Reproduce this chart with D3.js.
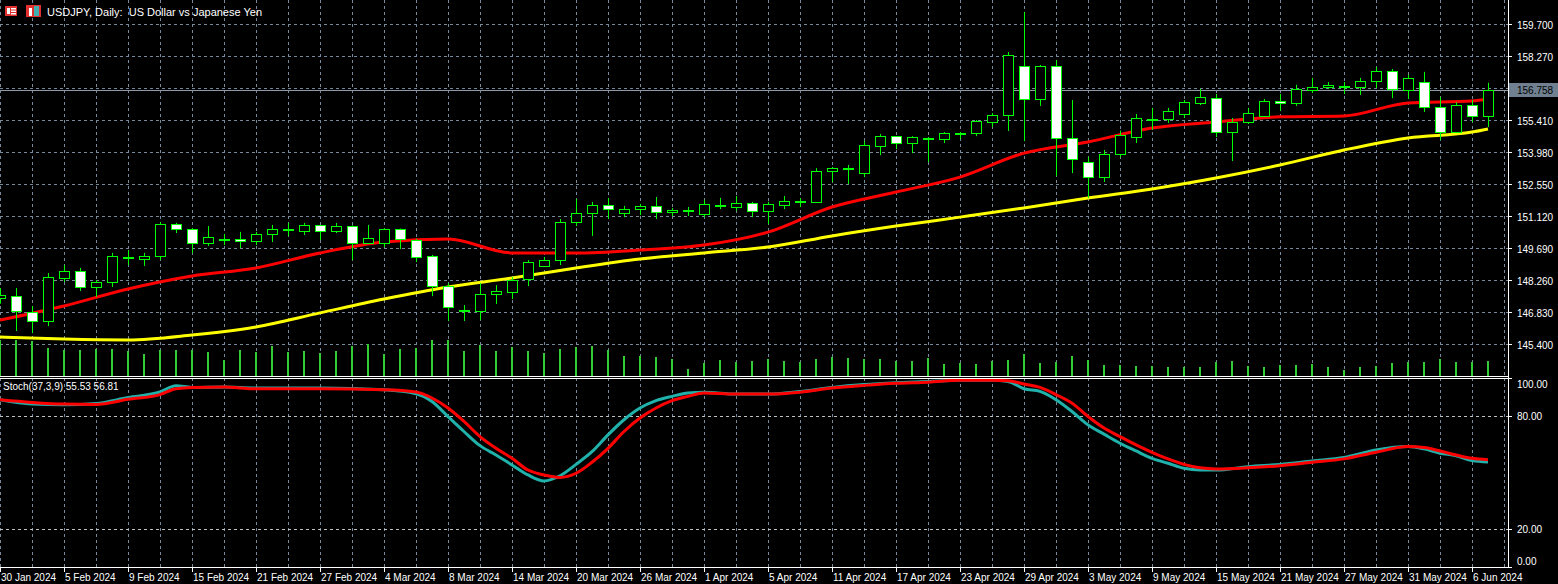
<!DOCTYPE html>
<html>
<head>
<meta charset="utf-8">
<script src="https://cdn.jsdelivr.net/npm/d3@7"></script>
<style>
  body { margin: 0; background: #000; }
  svg { display: block; }
</style>
</head>
<body>
<div class="chart"></div>
<script>
// daily USDJPY bars, 30 Jan 2024 .. 7 Jun 2024 (index = bar number)
var opens = [147.45,147.54,146.83,146.43,148.35,148.66,147.95,148.17,149.26,149.20,149.33,150.76,150.54,149.91,150.05,150.10,150.00,150.32,150.50,150.45,150.72,150.45,150.67,149.91,149.91,150.54,150.05,149.33,147.99,146.90,146.87,147.63,147.72,148.30,148.89,149.15,150.85,151.25,151.61,151.25,151.43,151.57,151.30,151.34,151.21,151.59,151.52,151.70,151.34,151.61,151.75,151.75,153.13,153.22,153.04,154.25,154.69,154.38,154.58,154.56,154.80,154.83,155.32,155.63,157.82,156.35,157.82,154.60,153.53,152.86,153.89,154.65,155.41,155.46,155.68,156.17,156.39,154.87,155.32,155.59,156.26,156.17,156.75,156.89,156.87,156.89,157.16,157.60,156.75,157.11,155.99,154.87,156.08,155.59];
var highs = [147.90,147.90,147.10,148.57,148.93,148.80,148.26,149.47,149.60,149.47,150.85,150.81,150.58,150.67,150.32,150.41,150.41,150.72,150.81,150.81,150.72,150.81,150.70,150.72,150.58,150.56,150.10,149.38,148.12,147.14,148.12,148.03,148.39,149.15,149.29,150.99,151.88,151.75,151.92,151.57,151.66,151.97,151.48,151.52,151.84,151.93,152.01,151.75,151.75,152.01,151.92,153.26,153.31,153.40,154.47,154.78,154.69,154.69,154.65,154.87,154.87,155.41,155.72,158.45,160.24,157.87,158.09,156.30,153.76,154.07,154.94,155.68,155.95,155.95,156.30,156.80,156.57,155.50,155.95,156.35,156.57,156.98,157.29,157.11,157.11,157.29,157.78,157.69,157.43,157.56,156.44,156.21,156.30,157.07];
var lows = [147.20,145.98,145.89,146.20,148.17,147.77,147.50,147.95,148.93,148.89,149.15,150.36,149.47,149.78,149.82,149.69,149.82,149.96,150.23,150.27,150.05,150.36,149.15,149.91,149.73,149.64,149.06,147.54,146.43,146.43,146.47,147.19,147.41,147.99,148.89,148.93,150.67,150.23,150.99,151.07,151.16,150.99,151.12,151.12,151.07,151.43,151.36,151.07,150.76,151.43,151.52,151.70,152.64,152.55,152.86,153.84,154.11,153.93,153.53,154.38,154.56,154.69,155.10,154.92,154.47,156.04,152.91,153.04,151.92,152.64,153.76,154.38,154.96,155.28,155.50,156.08,154.65,153.58,155.23,155.55,155.81,156.04,156.62,156.80,156.57,156.53,156.84,156.39,156.35,155.77,154.51,154.83,155.32,155.10];
var closes = [147.60,146.87,146.43,148.39,148.66,147.95,148.17,149.33,149.31,149.33,150.76,150.54,149.91,150.18,150.10,150.00,150.32,150.54,150.56,150.72,150.45,150.67,149.91,150.14,150.54,150.10,149.29,147.99,147.05,146.92,147.63,147.77,148.26,149.06,149.15,150.85,151.25,151.61,151.43,151.43,151.57,151.30,151.39,151.37,151.66,151.63,151.70,151.34,151.66,151.79,151.79,153.13,153.26,153.27,154.29,154.69,154.38,154.65,154.62,154.83,154.83,155.37,155.63,158.31,156.35,157.82,154.60,153.67,152.86,153.89,154.74,155.50,155.46,155.81,156.21,156.44,154.87,155.32,155.72,156.26,156.17,156.80,156.89,156.98,156.91,157.16,157.60,156.80,157.29,155.99,154.87,156.08,155.59,156.758];
var volumes = [36,36,35,28,26,26,27,27,25,22,26,26,26,24,16,26,24,30,24,25,23,25,30,32,22,27,28,36,36,25,31,25,29,25,23,27,29,30,26,20,20,19,17,7,13,16,14,15,17,15,14,17,19,18,17,17,15,15,18,12,13,12,15,16,22,13,14,20,16,11,11,10,10,9,9,9,14,15,10,9,11,11,12,9,6,9,10,13,14,14,17,14,14,15];

// moving averages, one point every 4 bars
var maIdx = [0,4,8,12,16,20,24,28,32,36,40,44,48,52,56,60,64,68,72,76,80,84,88,92,93];
var maFast = [146.47,147.10,147.86,148.44,148.80,149.47,149.96,150.09,149.47,149.47,149.60,149.82,150.40,151.52,152.19,152.86,153.93,154.43,155.05,155.32,155.55,155.59,156.17,156.26,156.35];
var maSlow = [145.71,145.62,145.58,145.80,146.16,146.79,147.41,147.95,148.35,148.80,149.20,149.47,149.73,150.23,150.67,151.07,151.48,151.92,152.33,152.82,153.40,154.07,154.61,154.87,155.01];

// Stoch(37,3,9)
var stIdx = [0,2,4,6,8,10,11,12,14,16,20,24,26,27,28,29,30,31,32,33,34,35,36,37,38,39,40,41,42,43,44,46,48,50,52,54,56,58,60,62,63,64,65,66,67,68,69,70,71,72,73,74,75,76,78,80,82,84,86,88,89,90,91,92,93];
var stMain = [88.5,86.2,85.8,86.5,89.7,92.6,95.9,95.0,95.2,94.7,94.7,93.8,91.7,87.6,79.6,71.7,64.2,59.3,54.0,48.7,45.5,48.3,54.3,61.0,69.9,77.9,84.1,88.0,90.3,92.1,92.4,91.5,91.5,92.9,95.0,96.5,97.5,98.2,98.8,98.8,98.2,94.3,92.9,88.5,82.3,75.2,70.3,65.5,61.4,57.5,54.9,52.2,51.3,51.3,53.1,54.3,56.1,57.9,61.9,63.7,62.5,60.2,58.9,56.3,55.53];
var stSignal = [88.5,87.1,86.2,86.0,88.7,91.2,94.3,95.0,95.2,94.3,94.3,93.8,92.6,89.4,84.1,77.0,69.0,62.8,57.5,51.3,48.7,47.4,49.6,55.4,62.8,71.7,78.8,84.1,88.0,90.3,92.1,91.5,91.5,92.5,94.7,96.1,97.2,97.8,98.8,98.8,98.6,96.8,95.0,91.2,86.7,79.6,73.5,69.0,64.6,60.7,57.2,54.3,52.5,51.9,52.5,53.6,55.4,57.2,60.7,63.7,63.2,61.4,59.3,57.5,56.81];

var priceTicks = [145.40,146.83,148.26,149.69,151.12,152.55,153.98,155.41,156.84,158.27,159.70];
var stochTicks = [100, 80, 20, 0];
var dateLabels = ['30 Jan 2024','5 Feb 2024','9 Feb 2024','15 Feb 2024','21 Feb 2024','27 Feb 2024','4 Mar 2024','8 Mar 2024','14 Mar 2024','20 Mar 2024','26 Mar 2024','1 Apr 2024','5 Apr 2024','11 Apr 2024','17 Apr 2024','23 Apr 2024','29 Apr 2024','3 May 2024','9 May 2024','15 May 2024','21 May 2024','27 May 2024','31 May 2024','6 Jun 2024'];
var lastPrice = 156.758;

var W = 1558, H = 584, plotW = 1508;
var mainTop = 0, mainBottom = 376, stTop = 378, stBottom = 567;
var gridColor = '#778899';
var font = 'Liberation Sans, Arial, sans-serif';

var svg = d3.select('.chart').append('svg').attr('width', W).attr('height', H)
    .style('background', '#000');

var x = d3.scaleLinear().domain([0, 93]).range([0, 1488]);
var y = d3.scaleLinear().domain([145.40, 159.70]).range([344, 24]);
var yv = d3.scaleLinear().domain([0, 36]).range([376, 340]);
var ys = d3.scaleLinear().domain([0, 100]).range([stBottom, stTop]);

var defs = svg.append('defs');
defs.append('clipPath').attr('id', 'clipMain').append('rect')
    .attr('x', 0).attr('y', mainTop).attr('width', plotW).attr('height', mainBottom - mainTop);
defs.append('clipPath').attr('id', 'clipSt').append('rect')
    .attr('x', 0).attr('y', stTop).attr('width', plotW).attr('height', stBottom - stTop);

// grid
var grid = svg.append('g').attr('stroke', gridColor).attr('stroke-dasharray', '3,3').attr('stroke-width', 1);
d3.range(0, plotW, 32).forEach(function(gx) {
    grid.append('line').attr('x1', gx + 0.5).attr('x2', gx + 0.5).attr('y1', mainTop).attr('y2', mainBottom);
    grid.append('line').attr('x1', gx + 0.5).attr('x2', gx + 0.5).attr('y1', stTop).attr('y2', stBottom);
});
priceTicks.forEach(function(p) {
    var gy = Math.round(y(p)) + 0.5;
    grid.append('line').attr('x1', 0).attr('x2', plotW).attr('y1', gy).attr('y2', gy);
});
[80, 20].forEach(function(v) {
    var gy = Math.round(ys(v)) + 0.5;
    svg.append('line').attr('x1', 0).attr('x2', plotW).attr('y1', gy).attr('y2', gy)
        .attr('stroke', '#c0c0c0').attr('stroke-dasharray', '3,3');
});

// last price line
svg.append('line').attr('x1', 0).attr('x2', plotW)
    .attr('y1', Math.round(y(lastPrice)) + 0.5).attr('y2', Math.round(y(lastPrice)) + 0.5)
    .attr('stroke', '#8f9bab').attr('stroke-width', 1);

var main = svg.append('g').attr('clip-path', 'url(#clipMain)');

// volumes
main.selectAll('.vol').data(volumes).enter().append('line')
    .attr('x1', function(d, i) { return x(i); }).attr('x2', function(d, i) { return x(i); })
    .attr('y1', yv(0)).attr('y2', function(d) { return yv(d); })
    .attr('stroke', '#32cd32').attr('stroke-width', 2);

// moving averages
var maLine = function(vals) {
    return d3.line().x(function(d) { return x(d); }).y(function(d, k) { return y(vals[k]); })
        .curve(d3.curveMonotoneX)(maIdx);
};
main.append('path').attr('d', maLine(maSlow)).attr('fill', 'none').attr('stroke', '#ffff00').attr('stroke-width', 3);
main.append('path').attr('d', maLine(maFast)).attr('fill', 'none').attr('stroke', '#ff0000').attr('stroke-width', 3);

// candles
var candles = main.selectAll('.candle').data(closes).enter().append('g');
candles.append('line')
    .attr('x1', function(d, i) { return x(i) + 0.5; }).attr('x2', function(d, i) { return x(i) + 0.5; })
    .attr('y1', function(d, i) { return y(highs[i]); }).attr('y2', function(d, i) { return y(lows[i]); })
    .attr('stroke', '#00ff00').attr('stroke-width', 1);
candles.append('rect')
    .attr('x', function(d, i) { return x(i) - 4.5; })
    .attr('y', function(d, i) { return Math.round(y(Math.max(opens[i], d))) + 0.5; })
    .attr('width', 10)
    .attr('height', function(d, i) { return Math.max(1, Math.round(Math.abs(y(opens[i]) - y(d)))); })
    .attr('fill', function(d, i) { return d >= opens[i] ? '#000' : '#fff'; })
    .attr('stroke', '#00ff00').attr('stroke-width', 1);

// stochastic
var st = svg.append('g').attr('clip-path', 'url(#clipSt)');
var stLine = function(vals) {
    return d3.line().x(function(d) { return x(d); }).y(function(d, k) { return ys(vals[k]); })
        .curve(d3.curveMonotoneX)(stIdx);
};
st.append('path').attr('d', stLine(stMain)).attr('fill', 'none').attr('stroke', '#20b2aa').attr('stroke-width', 3);
st.append('path').attr('d', stLine(stSignal)).attr('fill', 'none').attr('stroke', '#ff0000').attr('stroke-width', 3);

// frame
svg.append('line').attr('x1', 0).attr('x2', plotW + 1).attr('y1', 376.5).attr('y2', 376.5).attr('stroke', '#fff');
svg.append('line').attr('x1', 0).attr('x2', plotW + 1).attr('y1', 378.5).attr('y2', 378.5).attr('stroke', '#fff');
svg.append('line').attr('x1', 0).attr('x2', plotW + 1).attr('y1', stBottom + 0.5).attr('y2', stBottom + 0.5).attr('stroke', '#fff');
svg.append('line').attr('x1', plotW + 0.5).attr('x2', plotW + 0.5).attr('y1', 0).attr('y2', stBottom + 1).attr('stroke', '#fff');

// price axis
priceTicks.forEach(function(p) {
    var gy = Math.round(y(p)) + 0.5;
    svg.append('line').attr('x1', plotW).attr('x2', plotW + 4).attr('y1', gy).attr('y2', gy).attr('stroke', '#fff');
    svg.append('text').attr('x', plotW + 9).attr('y', gy + 4).text(p.toFixed(3))
        .attr('fill', '#fff').style('font', '10px ' + font);
});
var ly = Math.round(y(lastPrice));
svg.append('rect').attr('x', plotW + 1).attr('y', ly - 7).attr('width', W - plotW - 1).attr('height', 14).attr('fill', '#708090');
svg.append('text').attr('x', plotW + 9).attr('y', ly + 4).text(lastPrice.toFixed(3))
    .attr('fill', '#000').style('font', '10px ' + font);

// stoch axis
stochTicks.forEach(function(v) {
    var gy = Math.min(Math.max(ys(v), stTop + 6), stBottom - 6);
    svg.append('line').attr('x1', plotW).attr('x2', plotW + 4)
        .attr('y1', Math.round(ys(v)) + 0.5).attr('y2', Math.round(ys(v)) + 0.5).attr('stroke', '#fff');
    svg.append('text').attr('x', plotW + 9).attr('y', gy + 4).text(v.toFixed(2))
        .attr('fill', '#fff').style('font', '10px ' + font);
});

// date axis
dateLabels.forEach(function(t, k) {
    var tx = x(k * 4);
    svg.append('line').attr('x1', tx + 0.5).attr('x2', tx + 0.5).attr('y1', stBottom).attr('y2', stBottom + 5).attr('stroke', '#fff');
    svg.append('text').attr('x', tx + 1).attr('y', 581).text(t)
        .attr('fill', '#fff').style('font', '10px ' + font);
});

// titles
var icon = svg.append('g');
icon.append('rect').attr('x', 5).attr('y', 6).attr('width', 12).attr('height', 10).attr('fill', '#e03030');
icon.append('rect').attr('x', 7).attr('y', 8).attr('width', 3).attr('height', 6).attr('fill', '#fff');
icon.append('rect').attr('x', 11).attr('y', 8).attr('width', 5).attr('height', 1.5).attr('fill', '#fff');
icon.append('rect').attr('x', 11).attr('y', 10.5).attr('width', 5).attr('height', 1.5).attr('fill', '#fff');
icon.append('rect').attr('x', 11).attr('y', 13).attr('width', 5).attr('height', 1.5).attr('fill', '#fff');
icon.append('rect').attr('x', 26).attr('y', 5).attr('width', 15).attr('height', 12).attr('fill', '#e03030');
icon.append('rect').attr('x', 29).attr('y', 8).attr('width', 3).attr('height', 8).attr('fill', '#fff');
icon.append('rect').attr('x', 34).attr('y', 6).attr('width', 5).attr('height', 10).attr('fill', '#40b0b0');
svg.append('text').attr('x', 47).attr('y', 16).text('USDJPY, Daily:  US Dollar vs Japanese Yen')
    .attr('fill', '#fff').style('font', '11px ' + font).style('white-space', 'pre');
svg.append('text').attr('x', 3).attr('y', 390).text('Stoch(37,3,9) 55.53 56.81')
    .attr('fill', '#fff').style('font', '10px ' + font);
</script>
</body>
</html>
